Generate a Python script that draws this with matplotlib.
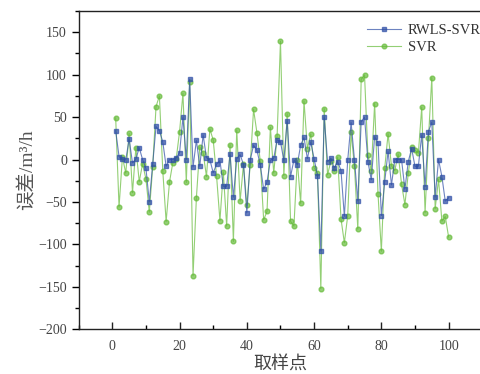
import matplotlib
matplotlib.use("Agg")
import matplotlib.pyplot as plt
from matplotlib.ticker import MultipleLocator

plt.rcParams['font.family'] = ['Liberation Serif', 'Noto Sans CJK SC']

# sample index 1..100
idx = list(range(1, 101))

rwls_svr = [34, 3.5, 0.4, -0.4, 24, -4, 0.4, 14, 0, -10.5,
            -50, -5.5, 39, 34, 21, -8, 0, 0, 2, 8,
            50, 0, 94.5, -9, 22.6, -8, 29, 2, 0, -15.6,
            -5.5, -1, -31.6, -31.6, 6, -44.5, 1, 6, -6, -63,
            -0.4, 17, 11, -6.6, -35, -26.5, -1, 1.5, 23, 21,
            -1, 45.7, -20, -0.4, -6, 17, 26, 1, 20.7, 1,
            -19, -108, 50, -2.3, 1.5, -10, -2.3, -13, -67, -0.4,
            44, -0.4, -49, 44.5, 50, -2.3, -24, 27, 20, -66,
            -26, 10, -30, 0, 0, 0, -35, -2.3, 13, -8,
            -8, 29, -32, 33, 44, -44.5, 0, -20, -49, -45]

svr = [49, -56, 3, -16, 31, -39, 14, -26, -5, -23,
       -62, -9, 62.5, 75, -13, -73, -26.5, -3.5, 1, 33,
       78, -27, 91, -137, -45, 15, 8, -20, 36, 23,
       -19.5, -72, -14.5, -78.5, 17.6, -96.5, 35, -49, -5.5, -54,
       -6.6, 59, 31.6, -2, -71, -61, 38, -16, 27.7, 139.5,
       -18.8, 54, -72.7, -78.5, -1, -51.6, 69, 13, 30, -9.8,
       -16, -152, 60, -18, -1.6, -14, 2.7, -70, -98, -66,
       32, -8, -82, 94.5, 99.6, 5, -13, 66, -40, -108,
       -10, 30.5, -7.4, -13, 6.6, -29, -53, -16.4, 14.5, 11,
       7.4, 61.7, -62.5, 25, 96.5, -57.8, -23.4, -72.7, -67, -91.4]

blue = '#2f4fa6'
green = '#66bb3a'

fig = plt.figure(figsize=(4.81, 3.74), dpi=100)
ax = fig.add_axes([0.1636, 0.1195, 0.839, 0.851])

ax.plot(idx, rwls_svr, color=blue, lw=0.8, alpha=0.7, marker='s', ms=3.4,
        mfc=blue, mec=blue, label='RWLS-SVR', zorder=3)
ax.plot(idx, svr, color=green, lw=0.8, alpha=0.7, marker='o', ms=3.4,
        mfc=green, mec=green, label='SVR', zorder=2)

ax.set_xlim(-10, 110)
ax.set_ylim(-200, 175)
ax.xaxis.set_major_locator(MultipleLocator(20))
ax.xaxis.set_minor_locator(MultipleLocator(10))
ax.yaxis.set_major_locator(MultipleLocator(50))
ax.yaxis.set_minor_locator(MultipleLocator(25))

ax.tick_params(axis='x', which='major', direction='in', length=5, width=1, labelsize=10,
               colors='#222222', pad=8, labelcolor='#444444')
ax.tick_params(axis='x', which='minor', direction='in', length=3, width=1)
ax.tick_params(axis='y', which='major', direction='out', length=5, width=1, labelsize=10,
               labelcolor='#444444')
ax.tick_params(axis='y', which='minor', direction='out', length=3, width=1)

for s in ax.spines.values():
    s.set_linewidth(1)
    s.set_color('#222222')
ax.spines['right'].set_visible(False)

ax.set_xlabel('取样点', fontsize=13, color='#444444', labelpad=2)
ax.set_ylabel('误差/m³/h', fontsize=14, color='#555555', labelpad=1)

leg = ax.legend(loc='upper left', bbox_to_anchor=(0.748, 0.955), bbox_transform=fig.transFigure,
                frameon=False, fontsize=10.5, handlelength=2.3, handletextpad=0.5,
                labelspacing=0.25, borderpad=0)
for t in leg.get_texts():
    t.set_color('#333333')

fig.savefig('out.png', dpi=100)
